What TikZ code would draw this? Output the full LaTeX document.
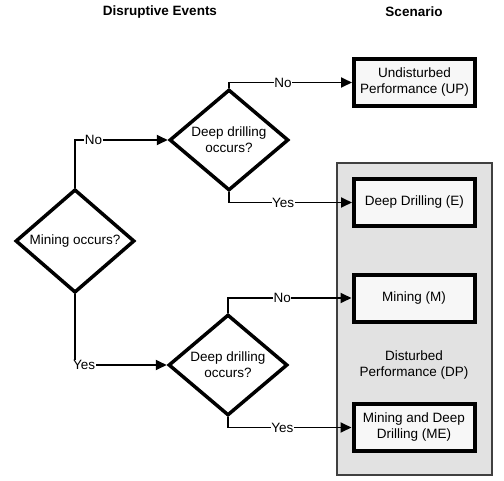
\documentclass[tikz,border=0pt]{standalone}
\usepackage{fontspec}
\setmainfont{Liberation Sans}
\usepackage{tikz}
\usetikzlibrary{shapes.geometric, arrows.meta, positioning}
\definecolor{panelgray}{HTML}{E2E2E2}
\definecolor{boxfill}{HTML}{F7F7F7}

\begin{document}
\begin{tikzpicture}[x=1pt, y=-1pt, font=\fontsize{13.5}{16}\selectfont,
        decision/.style = {draw, diamond, line width=3.5pt, minimum width=119pt,
                        minimum height=90pt, inner sep=0pt, align=center},
        scen/.style = {draw, rectangle, line width=4pt, fill=boxfill,
                        minimum width=121pt, minimum height=47pt, align=center},
        conn/.style = {line width=1.8pt, -{Triangle[length=11pt, width=10pt]}},
        lab/.style = {fill=white, inner sep=0.5pt},
        title/.style = {font=\fontsize{13.5}{16}\selectfont\bfseries}]
        \useasboundingbox (0,0) rectangle (504,480);

        % headings
        \node[title] (hdis) at (160,12) {Disruptive Events};
        \node[title] (hscn) at (414,12) {Scenario};

        % disturbed panel
        \draw[draw=black!75, line width=1.6pt, fill=panelgray] (337,163) rectangle (492,475);
        \node[align=center] (dp) at (414,365) {Disturbed\\Performance (DP)};

        % decisions
        \node[decision] (mine) at (75,241) {Mining occurs?};
        \node[decision] (dd1) at (229,140) {Deep drilling\\occurs?};
        \node[decision] (dd2) at (228,365) {Deep drilling\\occurs?};

        % scenarios
        \node[scen] (up) at (414.5,82.5) {Undisturbed\\Performance (UP)};
        \node[scen] (e) at (414.5,202.5) {Deep Drilling (E)};
        \node[scen] (m) at (414,298) {Mining (M)};
        \node[scen] (me) at (414,427.5) {Mining and Deep\\Drilling (ME)};

        \draw[conn] (mine.north) |- node[lab, pos=0.6] {No} (dd1.west);
        \draw[conn] (mine.south) |- node[lab, pos=0.55] {Yes} (dd2.west);
        \draw[conn] (dd1.north) |- node[lab, pos=0.72] {No} (up.west);
        \draw[conn] (dd1.south) |- node[lab, pos=0.72] {Yes} (e.west);
        \draw[conn] (dd2.north) |- node[lab, pos=0.72] {No} (m.west);
        \draw[conn] (dd2.south) |- node[lab, pos=0.72] {Yes} (me.west);
    \end{tikzpicture}
\end{document}
